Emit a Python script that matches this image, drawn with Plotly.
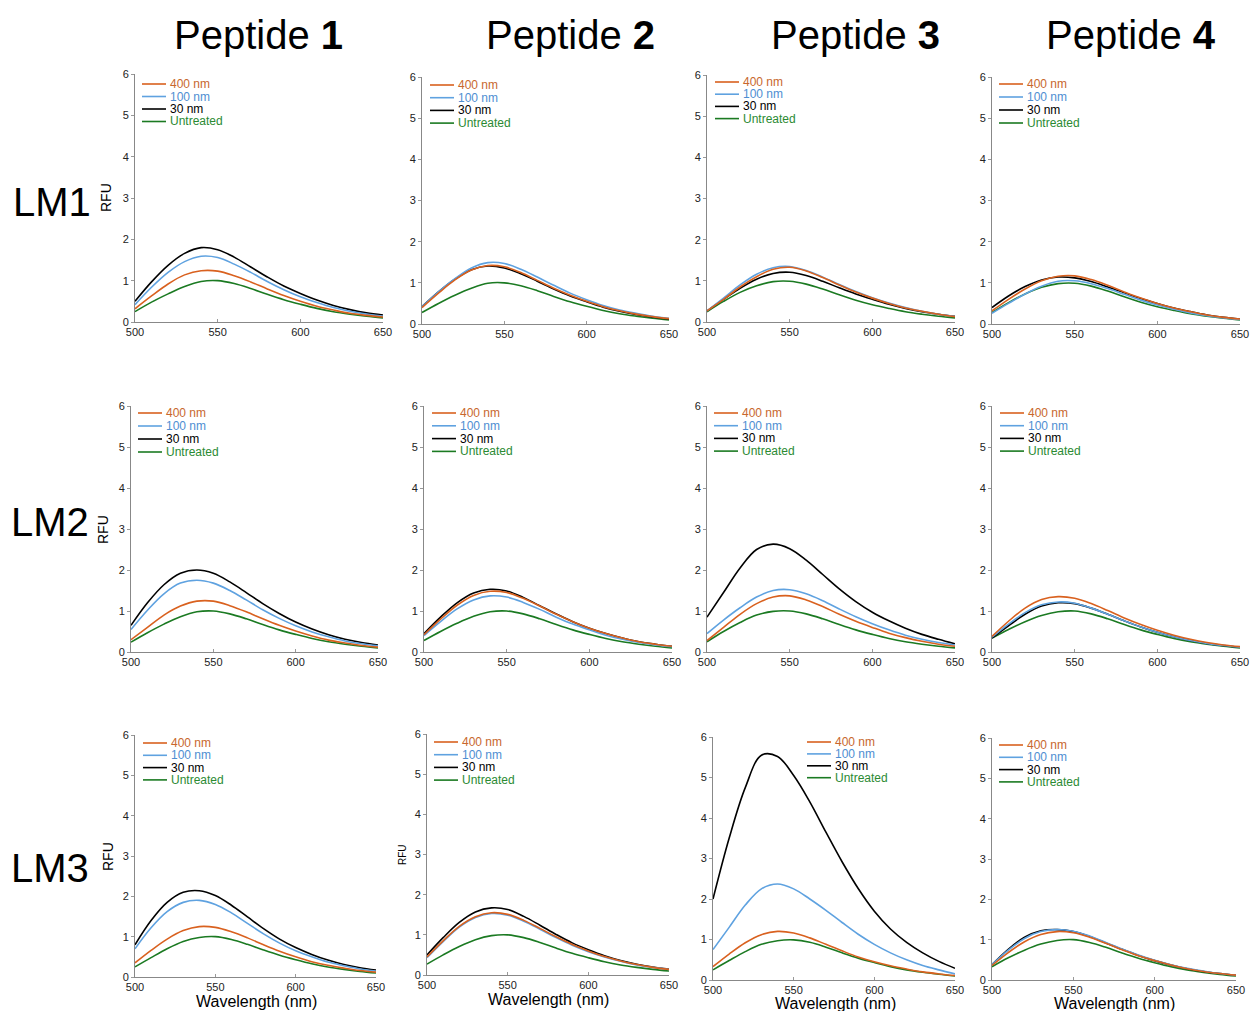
import plotly.graph_objects as go

W, H = 1251, 1011

wavelength = [500, 510, 520, 530, 540, 550, 560, 570, 580, 590, 600, 610, 620, 630, 640, 650]
series_names = ["400 nm", "100 nm", "30 nm", "Untreated"]
row_labels = ["LM1", "LM2", "LM3"]
col_labels = ["1", "2", "3", "4"]
x_ticks = [500, 550, 600, 650]
y_ticks = [0, 1, 2, 3, 4, 5, 6]

# ---- LM1 ----
lm1_p1_400 = [0.32, 0.63, 0.92, 1.14, 1.24, 1.23, 1.12, 0.97, 0.80, 0.64, 0.50, 0.38, 0.29, 0.21, 0.16, 0.12]
lm1_p1_100 = [0.42, 0.84, 1.20, 1.46, 1.59, 1.56, 1.40, 1.20, 0.98, 0.78, 0.61, 0.47, 0.35, 0.26, 0.19, 0.14]
lm1_p1_30 = [0.50, 0.97, 1.37, 1.66, 1.80, 1.75, 1.57, 1.33, 1.09, 0.87, 0.69, 0.53, 0.40, 0.30, 0.22, 0.17]
lm1_p1_un = [0.25, 0.48, 0.68, 0.86, 0.98, 1.00, 0.93, 0.81, 0.67, 0.54, 0.43, 0.33, 0.25, 0.19, 0.14, 0.10]

lm1_p2_400 = [0.40, 0.75, 1.07, 1.31, 1.42, 1.39, 1.25, 1.06, 0.87, 0.70, 0.55, 0.42, 0.32, 0.24, 0.18, 0.13]
lm1_p2_100 = [0.42, 0.78, 1.10, 1.36, 1.49, 1.47, 1.33, 1.14, 0.94, 0.75, 0.59, 0.45, 0.34, 0.26, 0.19, 0.14]
lm1_p2_30 = [0.42, 0.78, 1.09, 1.32, 1.41, 1.36, 1.22, 1.04, 0.85, 0.68, 0.54, 0.41, 0.31, 0.23, 0.17, 0.12]
lm1_p2_un = [0.28, 0.50, 0.70, 0.87, 0.99, 1.00, 0.93, 0.81, 0.67, 0.54, 0.43, 0.33, 0.25, 0.19, 0.14, 0.10]

lm1_p3_400 = [0.27, 0.55, 0.85, 1.10, 1.28, 1.33, 1.24, 1.08, 0.90, 0.73, 0.58, 0.45, 0.34, 0.26, 0.19, 0.13]
lm1_p3_100 = [0.27, 0.58, 0.90, 1.16, 1.32, 1.35, 1.25, 1.09, 0.91, 0.74, 0.59, 0.46, 0.35, 0.26, 0.19, 0.14]
lm1_p3_30 = [0.27, 0.55, 0.82, 1.04, 1.18, 1.21, 1.13, 0.99, 0.83, 0.68, 0.55, 0.43, 0.33, 0.25, 0.19, 0.14]
lm1_p3_un = [0.25, 0.50, 0.72, 0.88, 0.98, 0.99, 0.92, 0.80, 0.66, 0.53, 0.42, 0.33, 0.25, 0.19, 0.14, 0.10]

lm1_p4_400 = [0.32, 0.60, 0.85, 1.05, 1.16, 1.17, 1.08, 0.94, 0.78, 0.63, 0.50, 0.39, 0.30, 0.22, 0.16, 0.12]
lm1_p4_100 = [0.26, 0.50, 0.73, 0.92, 1.04, 1.05, 0.98, 0.86, 0.72, 0.58, 0.46, 0.36, 0.27, 0.20, 0.15, 0.11]
lm1_p4_30 = [0.40, 0.68, 0.91, 1.07, 1.14, 1.12, 1.03, 0.90, 0.76, 0.62, 0.50, 0.39, 0.30, 0.22, 0.16, 0.12]
lm1_p4_un = [0.28, 0.52, 0.73, 0.89, 0.98, 0.99, 0.92, 0.80, 0.66, 0.53, 0.42, 0.33, 0.25, 0.19, 0.14, 0.10]

# ---- LM2 ----
lm2_p1_400 = [0.30, 0.60, 0.90, 1.12, 1.24, 1.24, 1.13, 0.98, 0.81, 0.65, 0.51, 0.39, 0.29, 0.22, 0.16, 0.12]
lm2_p1_100 = [0.55, 1.02, 1.42, 1.68, 1.75, 1.68, 1.50, 1.27, 1.03, 0.82, 0.64, 0.49, 0.37, 0.27, 0.20, 0.15]
lm2_p1_30 = [0.65, 1.20, 1.64, 1.92, 2.00, 1.92, 1.71, 1.45, 1.18, 0.94, 0.73, 0.56, 0.42, 0.31, 0.23, 0.17]
lm2_p1_un = [0.24, 0.47, 0.68, 0.86, 0.98, 1.00, 0.93, 0.81, 0.67, 0.54, 0.43, 0.33, 0.25, 0.19, 0.14, 0.10]

lm2_p2_400 = [0.42, 0.80, 1.14, 1.38, 1.48, 1.45, 1.31, 1.12, 0.92, 0.74, 0.58, 0.45, 0.34, 0.25, 0.19, 0.14]
lm2_p2_100 = [0.40, 0.74, 1.05, 1.27, 1.37, 1.34, 1.21, 1.04, 0.85, 0.68, 0.54, 0.41, 0.31, 0.23, 0.17, 0.13]
lm2_p2_30 = [0.45, 0.85, 1.20, 1.44, 1.53, 1.49, 1.33, 1.13, 0.93, 0.74, 0.58, 0.45, 0.34, 0.25, 0.19, 0.14]
lm2_p2_un = [0.28, 0.50, 0.70, 0.87, 0.98, 1.00, 0.93, 0.81, 0.67, 0.54, 0.43, 0.33, 0.25, 0.19, 0.14, 0.10]

lm2_p3_400 = [0.28, 0.60, 0.92, 1.18, 1.34, 1.37, 1.27, 1.11, 0.92, 0.75, 0.60, 0.46, 0.35, 0.26, 0.19, 0.14]
lm2_p3_100 = [0.45, 0.78, 1.08, 1.34, 1.50, 1.52, 1.42, 1.25, 1.05, 0.86, 0.69, 0.54, 0.41, 0.31, 0.23, 0.17]
lm2_p3_30 = [0.85, 1.45, 2.05, 2.50, 2.63, 2.52, 2.24, 1.89, 1.54, 1.23, 0.97, 0.76, 0.58, 0.43, 0.31, 0.20]
lm2_p3_un = [0.25, 0.50, 0.72, 0.90, 0.99, 1.00, 0.93, 0.81, 0.67, 0.54, 0.43, 0.33, 0.25, 0.19, 0.14, 0.10]

lm2_p4_400 = [0.38, 0.75, 1.07, 1.28, 1.35, 1.31, 1.18, 1.01, 0.83, 0.67, 0.53, 0.41, 0.31, 0.23, 0.17, 0.13]
lm2_p4_100 = [0.36, 0.68, 0.96, 1.15, 1.22, 1.19, 1.07, 0.92, 0.76, 0.61, 0.48, 0.37, 0.28, 0.21, 0.16, 0.12]
lm2_p4_30 = [0.34, 0.64, 0.92, 1.12, 1.20, 1.18, 1.07, 0.92, 0.76, 0.61, 0.48, 0.37, 0.28, 0.21, 0.16, 0.12]
lm2_p4_un = [0.34, 0.55, 0.74, 0.89, 0.98, 1.00, 0.93, 0.81, 0.67, 0.54, 0.43, 0.33, 0.25, 0.19, 0.14, 0.10]

# ---- LM3 ----
lm3_p1_400 = [0.35, 0.66, 0.94, 1.15, 1.25, 1.23, 1.12, 0.97, 0.80, 0.64, 0.50, 0.38, 0.29, 0.22, 0.16, 0.12]
lm3_p1_100 = [0.70, 1.22, 1.62, 1.85, 1.90, 1.80, 1.59, 1.33, 1.07, 0.84, 0.65, 0.50, 0.37, 0.28, 0.20, 0.15]
lm3_p1_30 = [0.80, 1.40, 1.85, 2.10, 2.14, 2.02, 1.78, 1.49, 1.20, 0.94, 0.73, 0.56, 0.42, 0.31, 0.23, 0.17]
lm3_p1_un = [0.25, 0.48, 0.70, 0.88, 0.98, 1.00, 0.93, 0.81, 0.67, 0.54, 0.43, 0.33, 0.25, 0.19, 0.14, 0.10]

lm3_p2_400 = [0.45, 0.85, 1.21, 1.45, 1.55, 1.51, 1.36, 1.16, 0.95, 0.76, 0.60, 0.46, 0.35, 0.26, 0.19, 0.14]
lm3_p2_100 = [0.43, 0.83, 1.19, 1.43, 1.53, 1.49, 1.34, 1.14, 0.93, 0.74, 0.58, 0.45, 0.34, 0.25, 0.19, 0.14]
lm3_p2_30 = [0.50, 0.93, 1.31, 1.57, 1.67, 1.63, 1.46, 1.24, 1.01, 0.80, 0.63, 0.48, 0.36, 0.27, 0.20, 0.15]
lm3_p2_un = [0.27, 0.50, 0.71, 0.88, 0.98, 1.00, 0.93, 0.81, 0.67, 0.54, 0.43, 0.33, 0.25, 0.19, 0.14, 0.10]

lm3_p3_400 = [0.33, 0.64, 0.92, 1.12, 1.20, 1.16, 1.04, 0.88, 0.72, 0.57, 0.45, 0.35, 0.27, 0.20, 0.15, 0.11]
lm3_p3_100 = [0.75, 1.30, 1.85, 2.25, 2.37, 2.25, 2.00, 1.72, 1.42, 1.13, 0.88, 0.67, 0.50, 0.36, 0.25, 0.15]
lm3_p3_30 = [2.00, 3.50, 4.75, 5.55, 5.52, 5.05, 4.40, 3.65, 2.92, 2.26, 1.70, 1.26, 0.93, 0.67, 0.46, 0.29]
lm3_p3_un = [0.25, 0.48, 0.70, 0.88, 0.97, 0.99, 0.93, 0.81, 0.67, 0.54, 0.43, 0.33, 0.25, 0.19, 0.14, 0.10]

lm3_p4_400 = [0.36, 0.68, 0.95, 1.13, 1.20, 1.17, 1.06, 0.91, 0.75, 0.60, 0.48, 0.37, 0.28, 0.21, 0.16, 0.12]
lm3_p4_100 = [0.38, 0.74, 1.03, 1.20, 1.25, 1.21, 1.09, 0.93, 0.77, 0.62, 0.49, 0.38, 0.29, 0.22, 0.16, 0.12]
lm3_p4_30 = [0.38, 0.76, 1.06, 1.22, 1.25, 1.20, 1.08, 0.92, 0.76, 0.61, 0.48, 0.37, 0.28, 0.21, 0.16, 0.12]
lm3_p4_un = [0.33, 0.55, 0.74, 0.89, 0.98, 1.00, 0.93, 0.81, 0.67, 0.54, 0.43, 0.33, 0.25, 0.19, 0.14, 0.10]

panels_data = [
    [(lm1_p1_400, lm1_p1_100, lm1_p1_30, lm1_p1_un),
     (lm1_p2_400, lm1_p2_100, lm1_p2_30, lm1_p2_un),
     (lm1_p3_400, lm1_p3_100, lm1_p3_30, lm1_p3_un),
     (lm1_p4_400, lm1_p4_100, lm1_p4_30, lm1_p4_un)],
    [(lm2_p1_400, lm2_p1_100, lm2_p1_30, lm2_p1_un),
     (lm2_p2_400, lm2_p2_100, lm2_p2_30, lm2_p2_un),
     (lm2_p3_400, lm2_p3_100, lm2_p3_30, lm2_p3_un),
     (lm2_p4_400, lm2_p4_100, lm2_p4_30, lm2_p4_un)],
    [(lm3_p1_400, lm3_p1_100, lm3_p1_30, lm3_p1_un),
     (lm3_p2_400, lm3_p2_100, lm3_p2_30, lm3_p2_un),
     (lm3_p3_400, lm3_p3_100, lm3_p3_30, lm3_p3_un),
     (lm3_p4_400, lm3_p4_100, lm3_p4_30, lm3_p4_un)],
]

# ---- layout (pixel boxes: x_left, x_right, y_top(6), y_bottom(0)) ----
boxes = [
    [(135, 383, 74, 322), (422, 669, 77, 324), (707, 955, 75, 322), (992, 1240, 77, 324)],
    [(131, 378, 406, 652), (424, 672, 406, 652), (707, 955, 406, 652), (992, 1240, 406, 652)],
    [(135, 376, 735, 977), (427, 669, 734, 975), (713, 955, 737, 980), (992, 1236, 738, 980)],
]
legend_pos = [
    [(142, 84, 12.5), (430, 85, 12.7), (715, 82, 12.2), (999, 84, 13.0)],
    [(138, 413, 13.0), (432, 413, 12.8), (714, 413, 12.7), (1000, 413, 12.7)],
    [(143, 743, 12.3), (434, 742, 12.7), (807, 742, 11.9), (999, 745, 12.3)],
]

line_colors = ["#D9611F", "#5FA2E0", "#000000", "#1B7A22"]
text_colors = ["#C8672E", "#4E8ED2", "#000000", "#2B8A33"]
draw_order = [3, 2, 1, 0]

FONT = "Liberation Sans, Arial, Helvetica, sans-serif"


def px(x):
    return x / W


def py(y):
    return 1 - y / H


fig = go.Figure()
annotations = []
shapes = []

for r in range(3):
    for c in range(4):
        k = r * 4 + c + 1
        xa = "x" if k == 1 else f"x{k}"
        ya = "y" if k == 1 else f"y{k}"
        x0, x1, yt, yb = boxes[r][c]
        data = panels_data[r][c]
        for s in draw_order:
            fig.add_trace(go.Scatter(
                x=wavelength, y=data[s], mode="lines",
                line=dict(color=line_colors[s], width=1.6, shape="spline", smoothing=1.0),
                xaxis=xa, yaxis=ya, showlegend=False, name=series_names[s],
            ))
        xkey = "xaxis" if k == 1 else f"xaxis{k}"
        ykey = "yaxis" if k == 1 else f"yaxis{k}"
        fig.layout[xkey] = dict(
            domain=[px(x0), px(x1)], anchor=ya, range=[500, 650], automargin=False,
            tickvals=x_ticks, ticks="inside", ticklen=3, tickcolor="#999",
            showline=True, linecolor="#888", linewidth=1, showgrid=False, zeroline=False,
            tickfont=dict(family=FONT, size=11, color="#222"), fixedrange=True,
        )
        fig.layout[ykey] = dict(
            domain=[py(yb), py(yt)], anchor=xa, range=[0, 6], automargin=False,
            tickvals=y_ticks, ticks="outside", ticklen=3, tickcolor="#999",
            showline=True, linecolor="#888", linewidth=1, showgrid=False, zeroline=False,
            tickfont=dict(family=FONT, size=11, color="#222"), fixedrange=True,
        )
        # legend (line samples + coloured labels)
        lx, ly, dy = legend_pos[r][c]
        for s in range(4):
            yy = ly + s * dy
            shapes.append(dict(type="line", xref="paper", yref="paper",
                               x0=px(lx), x1=px(lx + 24), y0=py(yy), y1=py(yy),
                               line=dict(color=line_colors[s], width=1.6)))
            annotations.append(dict(text=series_names[s], xref="paper", yref="paper",
                                    x=px(lx + 26), y=py(yy), xanchor="left", yanchor="middle",
                                    showarrow=False,
                                    font=dict(family=FONT, size=12, color=text_colors[s])))

# column titles
col_centers = [258, 570, 855, 1131]
for c in range(4):
    annotations.append(dict(text=f"Peptide <b>{col_labels[c]}</b>", xref="paper", yref="paper",
                            x=px(col_centers[c]), y=py(35), xanchor="center", yanchor="middle",
                            showarrow=False, font=dict(family=FONT, size=40, color="#000")))

# row labels
row_pos = [(52, 202), (50, 522), (50, 868)]
for r in range(3):
    annotations.append(dict(text=row_labels[r], xref="paper", yref="paper",
                            x=px(row_pos[r][0]), y=py(row_pos[r][1]), xanchor="center", yanchor="middle",
                            showarrow=False, font=dict(family=FONT, size=40, color="#000")))

# RFU axis titles
rfu_pos = [(106, 198, 14), (103, 530, 14), (108, 857, 14), (402, 855, 10)]
for (x, y, s) in rfu_pos:
    annotations.append(dict(text="RFU", xref="paper", yref="paper", x=px(x), y=py(y),
                            xanchor="center", yanchor="middle", textangle=-90, showarrow=False,
                            font=dict(family=FONT, size=s, color="#000")))

# Wavelength titles
wl_pos = [(256, 1001), (548, 999), (835, 1003), (1114, 1003)]
for (x, y) in wl_pos:
    annotations.append(dict(text="Wavelength (nm)", xref="paper", yref="paper", x=px(x), y=py(y),
                            xanchor="center", yanchor="middle", showarrow=False,
                            font=dict(family=FONT, size=16, color="#000")))

fig.update_layout(
    width=W, height=H, margin=dict(l=0, r=0, t=0, b=0, autoexpand=False),
    paper_bgcolor="white", plot_bgcolor="white",
    showlegend=False, annotations=annotations, shapes=shapes,
    font=dict(family=FONT),
)

fig.write_html("out.html")
